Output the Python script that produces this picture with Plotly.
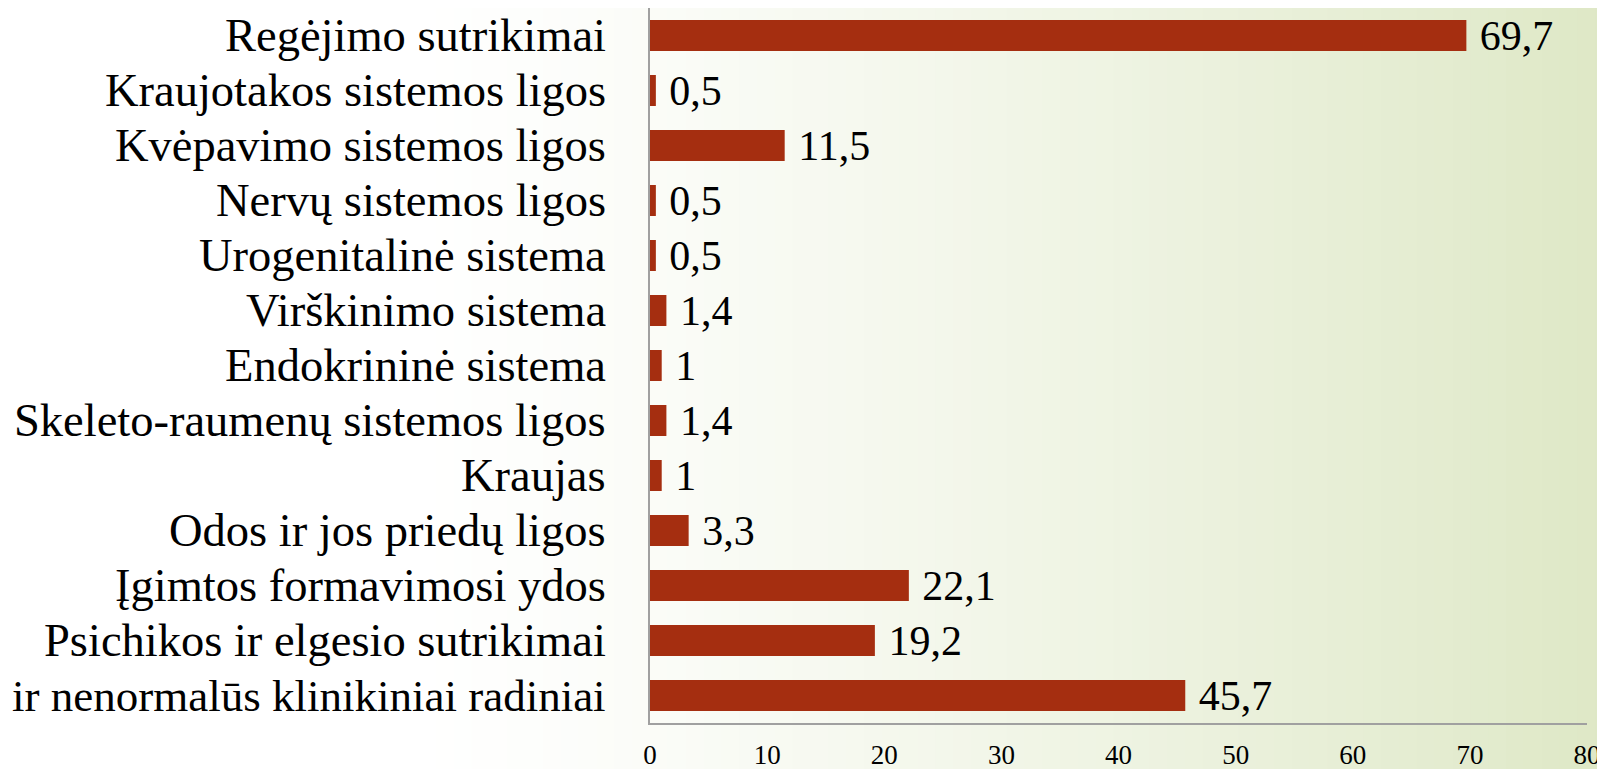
import plotly.graph_objects as go

# Duomenys (iš viršaus į apačią)
kategorijos = [
    "Regėjimo sutrikimai",
    "Kraujotakos sistemos ligos",
    "Kvėpavimo sistemos ligos",
    "Nervų sistemos ligos",
    "Urogenitalinė sistema",
    "Virškinimo sistema",
    "Endokrininė sistema",
    "Skeleto-raumenų sistemos ligos",
    "Kraujas",
    "Odos ir jos priedų ligos",
    "Įgimtos formavimosi ydos",
    "Psichikos ir elgesio sutrikimai",
    "ir nenormalūs klinikiniai radiniai",
]
reiksmes = [69.7, 0.5, 11.5, 0.5, 0.5, 1.4, 1, 1.4, 1, 3.3, 22.1, 19.2, 45.7]
x_ticks = [0, 10, 20, 30, 40, 50, 60, 70, 80]

SERIF = "Liberation Serif, Times New Roman, serif"
BAR_COLOR = "#A52E10"
AXIS_COLOR = "#A0A0A0"

# puslapio body turi ~8px paraštę, todėl paraštės pakoreguotos
W, H = 1605, 769
M_L, M_R, M_T, M_B = 642, 26, 0, 54
OFFSET = 8


def fmt(v):
    s = f"{v:g}"
    return " " + s.replace(".", ",")


fig = go.Figure()
fig.add_trace(go.Bar(
    y=kategorijos, x=reiksmes, orientation="h",
    marker=dict(color=BAR_COLOR, line=dict(width=0)),
    text=[fmt(v) for v in reiksmes],
    textposition="outside", constraintext="none", cliponaxis=False,
    textfont=dict(family=SERIF, size=42, color="black"),
    hoverinfo="skip",
))

# kategorijų pavadinimai kaip anotacijos (kad plotly neslėptų kas antro)
for i, kat in enumerate(kategorijos):
    # ilgiausias pavadinimas šiek tiek mažesnis, kad tilptų kairėje
    dydis = 45 if i == len(kategorijos) - 1 else 46.5
    fig.add_annotation(
        x=0, y=kat, xref="x", yref="y", text=kat, showarrow=False,
        xanchor="right", yanchor="middle", xshift=-42,
        font=dict(family=SERIF, size=dydis, color="black"),
    )

# fono gradientas: balta kairėje -> šviesiai žalia dešinėje
plot_w = W - M_L - M_R
white = (255, 255, 255)
green = (222, 232, 198)
n_strips = 90
shapes = []
for i in range(n_strips):
    px0 = W * i / n_strips
    px1 = W * (i + 1) / n_strips + 1
    t = ((px0 + px1) / 2 + OFFSET) / W
    s = min(1.0, max(0.0, (t - 0.25) / 0.75)) ** 1.3
    c = tuple(round(a + (b - a) * s) for a, b in zip(white, green))
    shapes.append(dict(
        type="rect", xref="paper", yref="paper", layer="below",
        x0=(px0 - M_L) / plot_w, x1=(px1 - M_L) / plot_w,
        y0=-1, y1=2, line=dict(width=0),
        fillcolor=f"rgb({c[0]},{c[1]},{c[2]})",
    ))

fig.update_layout(
    width=W, height=H,
    margin=dict(l=M_L, r=M_R, t=M_T, b=M_B),
    paper_bgcolor="white", plot_bgcolor="rgba(0,0,0,0)",
    showlegend=False, bargap=0.436,
    font=dict(family=SERIF, color="black"),
    shapes=shapes,
    xaxis=dict(
        range=[0, 80], tickvals=x_ticks, showgrid=False, zeroline=False,
        showline=True, linecolor=AXIS_COLOR, linewidth=2, ticks="",
        tickfont=dict(family=SERIF, size=27, color="black"),
        ticklabelstandoff=7, automargin=False,
    ),
    yaxis=dict(
        autorange="reversed", showgrid=False, zeroline=False,
        showline=True, linecolor=AXIS_COLOR, linewidth=2, ticks="",
        showticklabels=False, automargin=False,
    ),
)

fig.write_html("out.html")
